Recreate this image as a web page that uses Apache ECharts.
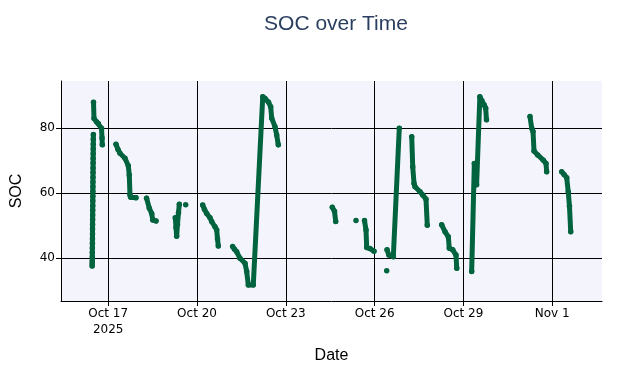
<!DOCTYPE html>
<html>
<head>
<meta charset="utf-8">
<script src="https://cdn.jsdelivr.net/npm/echarts@6/dist/echarts.min.js"></script>
<style>html,body{margin:0;padding:0;background:#fff}#c{width:638px;height:368px}</style>
</head>
<body>
<div id="c"></div>
<script>
// ---- data (null = break in the recorded series) ----
const socTimes = [
  '2025-10-16 11:00','2025-10-16 11:02','2025-10-16 11:04','2025-10-16 11:06','2025-10-16 11:08',
  '2025-10-16 11:10','2025-10-16 11:12','2025-10-16 11:14','2025-10-16 11:16','2025-10-16 11:18',
  '2025-10-16 11:20','2025-10-16 11:22','2025-10-16 11:24','2025-10-16 11:26','2025-10-16 11:28',
  '2025-10-16 11:30','2025-10-16 11:32','2025-10-16 11:34','2025-10-16 11:36','2025-10-16 11:38',
  '2025-10-16 11:40','2025-10-16 11:42','2025-10-16 11:44','2025-10-16 11:46','2025-10-16 11:48',
  '2025-10-16 11:50','2025-10-16 11:52','2025-10-16 11:54','2025-10-16 11:56','2025-10-16 11:58',
  null,
  '2025-10-16 12:05','2025-10-16 12:30','2025-10-16 14:30','2025-10-16 16:00','2025-10-16 18:35','2025-10-16 19:00','2025-10-16 19:13',
  null,
  '2025-10-17 06:18','2025-10-17 07:57','2025-10-17 09:34','2025-10-17 13:37','2025-10-17 16:18','2025-10-17 17:06','2025-10-17 17:40','2025-10-17 18:14','2025-10-17 22:32',
  null,
  '2025-10-18 07:06','2025-10-18 09:20','2025-10-18 11:16','2025-10-18 12:05','2025-10-18 14:45',
  null,
  '2025-10-19 06:24','2025-10-19 06:58','2025-10-19 07:32','2025-10-19 08:11','2025-10-19 09:00','2025-10-19 09:39',
  null,
  '2025-10-19 14:50',
  null,
  '2025-10-20 04:36','2025-10-20 06:05','2025-10-20 07:52','2025-10-20 10:32','2025-10-20 11:55','2025-10-20 14:35','2025-10-20 15:58','2025-10-20 16:37','2025-10-20 17:16',
  null,
  '2025-10-21 04:54','2025-10-21 06:24','2025-10-21 08:11','2025-10-21 10:52','2025-10-21 14:55','2025-10-21 16:18','2025-10-21 17:36','2025-10-21 21:39',
  '2025-10-22 05:18','2025-10-22 07:08','2025-10-22 10:00','2025-10-22 11:45','2025-10-22 12:34','2025-10-22 15:14','2025-10-22 16:37','2025-10-22 17:55',
  null,
  '2025-10-24 13:42','2025-10-24 15:29','2025-10-24 16:27',
  null,
  '2025-10-25 08:54',
  null,
  '2025-10-25 15:48','2025-10-25 17:02','2025-10-25 17:36','2025-10-25 20:16','2025-10-25 23:30',
  null,
  '2025-10-26 09:48',
  null,
  '2025-10-26 10:05','2025-10-26 11:31','2025-10-26 15:11','2025-10-26 20:00',
  null,
  '2025-10-27 06:06','2025-10-27 06:54','2025-10-27 07:58','2025-10-27 08:46','2025-10-27 12:49','2025-10-27 14:59','2025-10-27 17:40','2025-10-27 18:42',
  null,
  '2025-10-28 06:24','2025-10-28 09:05','2025-10-28 11:45','2025-10-28 12:34','2025-10-28 15:20','2025-10-28 18:00','2025-10-28 18:36',
  null,
  '2025-10-29 06:42','2025-10-29 08:51','2025-10-29 09:44','2025-10-29 10:42','2025-10-29 13:20','2025-10-29 14:58','2025-10-29 16:52','2025-10-29 18:03','2025-10-29 18:42',
  null,
  '2025-10-31 06:00','2025-10-31 07:23','2025-10-31 08:27','2025-10-31 09:15','2025-10-31 12:14','2025-10-31 16:46','2025-10-31 18:58','2025-10-31 19:30',
  null,
  '2025-11-01 07:42','2025-11-01 09:34','2025-11-01 11:45','2025-11-01 13:00','2025-11-01 14:00','2025-11-01 15:00'
];
const socValues = [
  37.6,38.3,39.2,40.4,41.8,
  43.2,44.6,46.0,47.5,49.0,
  50.4,51.9,53.3,54.8,56.2,
  57.7,59.1,60.6,62.0,63.5,
  64.9,66.4,67.8,69.3,70.7,
  72.2,73.6,75.1,76.6,78.1,
  null,
  88.0,83.0,82.0,81.5,80.0,77.0,74.9,
  null,
  75.1,73.5,72.3,70.8,68.5,65.6,59.5,58.8,58.6,
  null,
  58.5,55.4,53.8,51.8,51.5,
  null,
  52.5,49.5,46.8,50.5,54.0,56.6,
  null,
  56.5,
  null,
  56.4,55.0,53.8,52.5,51.3,49.7,48.7,46.0,43.8,
  null,
  43.6,42.8,42.0,40.0,38.5,35.9,31.8,31.8,
  89.7,89.2,88.0,86.6,83.1,80.5,77.9,74.9,
  null,
  55.7,54.5,51.3,
  null,
  51.6,
  null,
  51.6,48.7,43.3,43.0,42.2,
  null,
  36.2,
  null,
  42.6,41.0,40.5,80.0,
  null,
  77.4,68.2,63.0,62.0,60.5,59.5,58.2,50.2,
  null,
  50.3,48.2,46.6,43.1,42.6,41.0,36.9,
  null,
  35.9,69.2,68.0,62.6,89.7,88.5,87.2,86.2,82.6,
  null,
  83.6,80.0,79.0,73.0,71.8,70.2,69.2,66.6,
  null,
  66.6,65.8,64.8,60.5,56.0,48.2
];
const xRange = ['2025-10-15 09:44', '2025-11-02 16:22'];
const yRange = [26.86, 94.55];
const xTickDays = 3;
const yTickStep = 20;
const titleText = 'SOC over Time';
const xTitle = 'Date';
const yTitle = 'SOC';
const monthNames = ['Jan','Feb','Mar','Apr','May','Jun','Jul','Aug','Sep','Oct','Nov','Dec'];

// ---- helpers ----
const T0 = Date.UTC(2025, 9, 17); // Oct 17 2025, first labelled tick
function toDays(s) {
  const m = s.match(/(\d+)-(\d+)-(\d+) (\d+):(\d+)/);
  return (Date.UTC(+m[1], +m[2] - 1, +m[3], +m[4], +m[5]) - T0) / 864e5;
}
let lastX = 0;
const seriesData = socTimes.map((t, i) => {
  if (t === null || socValues[i] === null) return [lastX, '-'];
  lastX = toDays(t);
  return [lastX, socValues[i]];
});
function dayLabel(v) {
  const d = new Date(T0 + Math.round(v * 864e5));
  let s = monthNames[d.getUTCMonth()] + ' ' + d.getUTCDate();
  if (Math.abs(v) < 1e-6) s += '\n' + d.getUTCFullYear();
  return s;
}
const xMin = toDays(xRange[0]), xMax = toDays(xRange[1]);
const xTickVals = [], yTickVals = [];
for (let v = Math.ceil(xMin / xTickDays) * xTickDays; v <= xMax; v += xTickDays) xTickVals.push(v === 0 ? 0 : v);
for (let v = Math.ceil(yRange[0] / yTickStep) * yTickStep; v <= yRange[1]; v += yTickStep) yTickVals.push(v);

const chart = echarts.init(document.getElementById('c'), null, { renderer: 'canvas' });
chart.setOption({
  animation: false,
  backgroundColor: '#ffffff',
  title: {
    text: titleText,
    left: 331, top: 9,
    textAlign: 'center',
    textStyle: { fontFamily: 'Liberation Sans', fontSize: 21, fontWeight: 'normal', color: '#2a3f5f' }
  },
  grid: {
    left: 61, right: 36, top: 81, bottom: 67,
    containLabel: false, outerBoundsMode: 'none',
    show: true, backgroundColor: '#f4f5fc', borderWidth: 0
  },
  xAxis: {
    type: 'value',
    min: xMin, max: xMax,
    minInterval: xTickDays, maxInterval: xTickDays,
    name: xTitle, nameLocation: 'middle', nameGap: 47,
    nameTextStyle: { fontFamily: 'Liberation Sans', fontSize: 16, color: '#000' },
    axisLine: { show: true, onZero: false, lineStyle: { color: '#000', width: 1 } },
    axisTick: { show: true, length: 5, inside: false, customValues: xTickVals, lineStyle: { color: '#000' } },
    axisLabel: {
      customValues: xTickVals,
      margin: 5, formatter: dayLabel,
      fontFamily: 'DejaVu Sans', fontSize: 12, color: '#000', lineHeight: 16
    },
    splitLine: { show: true, lineStyle: { color: '#000', width: 1 } }
  },
  yAxis: {
    type: 'value',
    min: yRange[0], max: yRange[1],
    minInterval: yTickStep, maxInterval: yTickStep,
    name: yTitle, nameLocation: 'middle', nameGap: 36, nameRotate: 90,
    nameTextStyle: { fontFamily: 'Liberation Sans', fontSize: 16, color: '#000' },
    axisLine: { show: true, onZero: false, lineStyle: { color: '#000', width: 1 } },
    axisTick: { show: true, length: 5, inside: false, customValues: yTickVals, lineStyle: { color: '#000' } },
    axisLabel: {
      customValues: yTickVals,
      margin: 6, fontFamily: 'DejaVu Sans', fontSize: 12, color: '#000'
    },
    splitLine: { show: true, lineStyle: { color: '#000', width: 1 } }
  },
  series: [{
    type: 'line',
    name: 'SOC',
    data: seriesData,
    connectNulls: false,
    symbol: 'circle',
    symbolSize: 5.5,
    showSymbol: true,
    clip: true,
    itemStyle: { color: '#02633f' },
    lineStyle: { color: '#02633f', width: 5, cap: 'round', join: 'round' }
  }]
});
</script>
</body>
</html>
